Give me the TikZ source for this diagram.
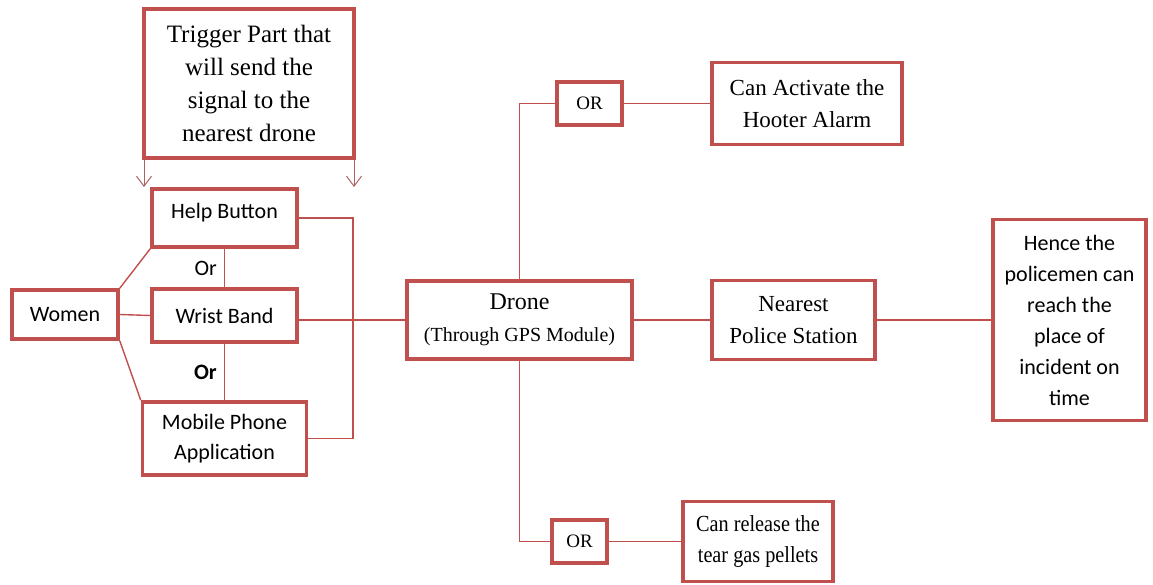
\documentclass[tikz,border=0pt]{standalone}
\usepackage{fontspec}
\setmainfont{Liberation Serif}
\newfontfamily\calibrifont{Carlito}
\newfontfamily\narrowserif[FakeStretch=0.88]{Liberation Serif}
\usetikzlibrary{arrows.meta, positioning}
\definecolor{boxred}{RGB}{192,80,77}
\definecolor{tiped}{RGB}{175,95,95}
\tikzset{
every node/.style={inner sep=1pt},
box/.style={draw=boxred, line width=3.5pt, align=center}, % every framed block
serif/.style={font=\fontsize{23}{32}\selectfont},
sans/.style={font=\calibrifont\fontsize{22}{30}\selectfont},
link/.style={draw=boxred, line width=1.4pt}, % plain connectors
trig/.style={draw=tiped, line width=1pt, -{Straight Barb[length=10pt,width=15pt]}},
}
\begin{document}
\begin{tikzpicture}[x=1pt,y=-1pt]
  \useasboundingbox (0,0) rectangle (1153,584);

  % trigger devices on the left
  \node[box, font=\fontsize{25}{33}\selectfont, minimum width=210pt, minimum height=149pt] (trigger) at (249,83.5) {Trigger Part that\\ will send the\\ signal to the\\ nearest drone};
  \node[box, sans, text depth=15pt, minimum width=145pt, minimum height=58pt] (help) at (224.5,218) {Help Button};
  \node[box, sans, minimum width=145pt, minimum height=53pt, below=38.5pt of help] (wrist) {Wrist Band};
  \node[box, sans, minimum width=164pt, minimum height=73pt, below=56.5pt of wrist] (mobile) {Mobile Phone\\ Application};
  \node[box, sans, minimum width=106pt, minimum height=49pt] (women) at (65,314.5) {Women};

  % drone and what it does
  \node[box, font=\fontsize{24}{32}\selectfont, minimum width=225pt, minimum height=78pt] (drone) at (519.5,320) {Drone\\ \fontsize{20}{27}\selectfont(Through GPS Module)};
  \node[box, serif, minimum width=163pt, minimum height=79pt, right=76.5pt of drone] (police) {Nearest\\ Police Station};
  \node[box, sans, font=\calibrifont\fontsize{22}{31}\selectfont, minimum width=153pt, minimum height=201pt, right=114.5pt of police] (hence) {Hence the\\ policemen can\\ reach the\\ place of\\ incident on\\ time};
  \node[box, font=\fontsize{19}{24}\selectfont, minimum width=65pt, minimum height=43pt] (orup) at (589.5,103.5) {OR};
  \node[box, serif, minimum width=190pt, minimum height=82pt, right=86.5pt of orup] (hooter) {Can Activate the\\ Hooter Alarm};
  \node[box, font=\fontsize{19}{24}\selectfont, minimum width=55pt, minimum height=43pt] (ordown) at (579.5,541.5) {OR};
  \node[box, font=\narrowserif\fontsize{23}{31}\selectfont, minimum width=150pt, minimum height=80pt, right=72.5pt of ordown] (teargas) {Can release the\\ tear gas pellets};

  \coordinate (ltip) at (144,187);
  \coordinate (rtip) at (354,187);
  \coordinate (bus) at (353,320);

  \draw[trig] (ltip |- trigger.south) -- (ltip);
  \draw[trig] (rtip |- trigger.south) -- (rtip);

  \draw[link] (help.east) -| (bus) |- (mobile.east);
  \draw[link] (help.south) -- node[sans, left=6pt] (or1) {Or} (wrist.north);
  \draw[link] (wrist.south) -- node[sans, left=6pt] (or2) {\bfseries Or} (mobile.north);
  \draw[link] (women.north east) -- (help.south west);
  \draw[link] (women.east) -- (wrist.west);
  \draw[link] (women.south east) -- (mobile.north west);

  \draw[link] (wrist.east |- drone.west) -- (drone.west);
  \draw[link] (drone.north) |- (orup.west);
  \draw[link] (orup.east) -- (hooter.west);
  \draw[link] (drone.east) -- (police.west);
  \draw[link] (police.east) -- (hence.west);
  \draw[link] (drone.south) |- (ordown.west);
  \draw[link] (ordown.east) -- (teargas.west);
\end{tikzpicture}
\end{document}
